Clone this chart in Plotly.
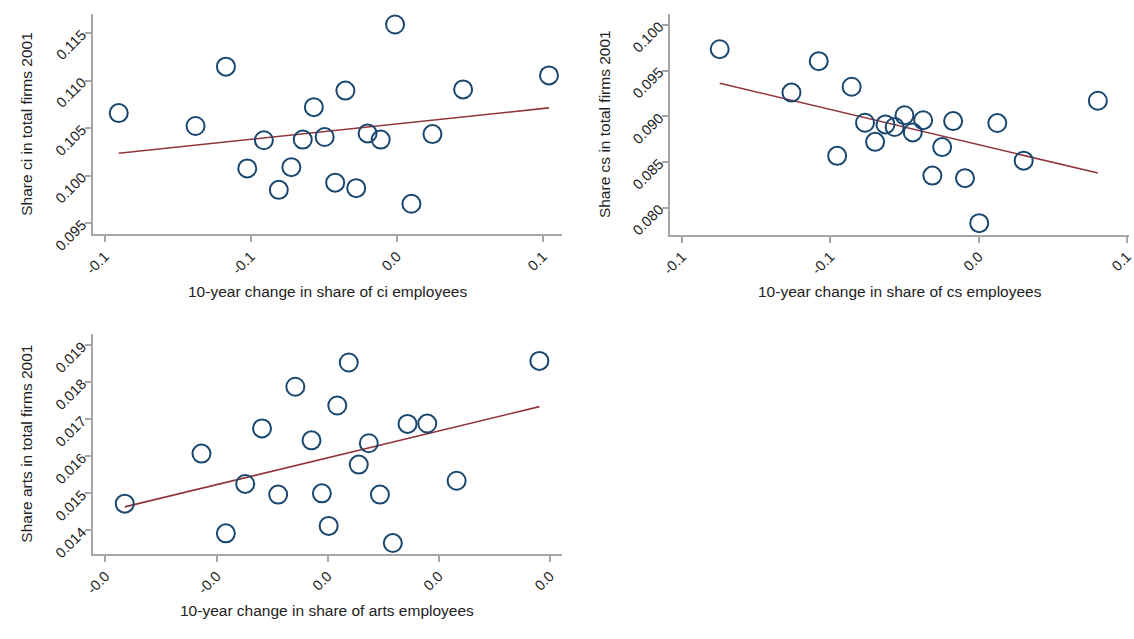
import numpy as np
import plotly.graph_objects as go

# ---- data -------------------------------------------------------------
ci_change = [-0.0952, -0.0689, -0.0585, -0.0512, -0.0455, -0.0404, -0.0361,
             -0.0322, -0.0284, -0.0247, -0.0211, -0.0176, -0.0139, -0.0100,
             -0.0055, -0.0006, 0.0050, 0.0122, 0.0227, 0.0521]
ci_share = [0.10658, 0.10522, 0.11146, 0.10076, 0.10372, 0.09851, 0.10089,
            0.10379, 0.10720, 0.10406, 0.09926, 0.10894, 0.09868, 0.10444,
            0.10379, 0.11589, 0.09704, 0.10437, 0.10907, 0.11054]
ci_fit = dict(intercept=0.10544, slope=0.03238)

cs_change = [-0.0873, -0.0631, -0.0539, -0.0477, -0.0428, -0.0383, -0.0349,
             -0.0314, -0.0283, -0.0250, -0.0222, -0.0187, -0.0156, -0.0123,
             -0.0086, -0.0046, 0.0002, 0.0063, 0.0152, 0.0402]
cs_share = [0.09734, 0.09259, 0.09603, 0.08567, 0.09323, 0.08929, 0.08720,
            0.08911, 0.08883, 0.09011, 0.08823, 0.08957, 0.08351, 0.08663,
            0.08947, 0.08323, 0.07830, 0.08926, 0.08514, 0.09170]
cs_fit = dict(intercept=0.08689, slope=-0.0771)

arts_change = [-0.003652, -0.002271, -0.001832, -0.001484, -0.001181, -0.000890,
               -0.000581, -0.000290, -0.000103, 0.000019, 0.000174, 0.000381,
               0.000561, 0.000742, 0.000942, 0.001174, 0.001439, 0.001794,
               0.002323, 0.003813]
arts_share = [0.014723, 0.016073, 0.013922, 0.015254, 0.016753, 0.014967,
              0.017876, 0.016430, 0.015002, 0.014122, 0.017371, 0.018530,
              0.015777, 0.016352, 0.014967, 0.013660, 0.016875, 0.016884,
              0.015341, 0.018573]
arts_fit = dict(intercept=0.015959, slope=0.3624)

# ---- tick labels ------------------------------------------------------
ci_xticks = [-0.10, -0.05, 0.0, 0.05]
ci_xlabels = ["-0.1", "-0.1", "0.0", "0.1"]
ci_yticks = [0.095, 0.100, 0.105, 0.110, 0.115]
ci_ylabels = ["0.095", "0.100", "0.105", "0.110", "0.115"]

cs_xticks = [-0.10, -0.05, 0.0, 0.05]
cs_xlabels = ["-0.1", "-0.1", "0.0", "0.1"]
cs_yticks = [0.080, 0.085, 0.090, 0.095, 0.100]
cs_ylabels = ["0.080", "0.085", "0.090", "0.095", "0.100"]

arts_xticks = [-0.004, -0.002, 0.0, 0.002, 0.004]
arts_xlabels = ["-0.0", "-0.0", "0.0", "0.0", "0.0"]
arts_yticks = [0.014, 0.015, 0.016, 0.017, 0.018, 0.019]
arts_ylabels = ["0.014", "0.015", "0.016", "0.017", "0.018", "0.019"]

# ---- styling ----------------------------------------------------------
W, H = 1134, 639
MARKER_COLOR = "#1a476f"
FIT_COLOR = "#90353b"
AXIS_COLOR = "#a6a6a6"
TEXT_COLOR = "#222222"
FONT = "Liberation Sans, Arial, sans-serif"

panels = [
    dict(x=ci_change, y=ci_share, fit=ci_fit, xt=ci_xticks, xl=ci_xlabels,
         yt=ci_yticks, yl=ci_ylabels,
         xr=[-0.10405, 0.05642], yr=[0.09383, 0.11704],
         xpx=(84, 559), ypx=(14, 241.5),
         xtitle="10-year change in share of ci employees",
         ytitle="Share ci in total firms 2001", xtitle_y=300, ytitle_x=17),
    dict(x=cs_change, y=cs_share, fit=cs_fit, xt=cs_xticks, xl=cs_xlabels,
         yt=cs_yticks, yl=cs_ylabels,
         xr=[-0.1040, 0.0507], yr=[0.07706, 0.10124],
         xpx=(669, 1134), ypx=(14, 241.7),
         xtitle="10-year change in share of cs employees",
         ytitle="Share cs in total firms 2001", xtitle_y=300, ytitle_x=602),
    dict(x=arts_change, y=arts_share, fit=arts_fit, xt=arts_xticks, xl=arts_xlabels,
         yt=arts_yticks, yl=arts_ylabels,
         xr=[-0.004226, 0.004213], yr=[0.013364, 0.019306],
         xpx=(84, 559), ypx=(344, 571),
         xtitle="10-year change in share of arts employees",
         ytitle="Share arts in total firms 2001", xtitle_y=629, ytitle_x=17),
]

fig = go.Figure()
annotations = []
layout_axes = {}

for i, p in enumerate(panels):
    n = "" if i == 0 else str(i + 1)
    xa, ya = "x" + n, "y" + n

    x = np.array(p["x"])
    y = np.array(p["y"])
    xf = np.array([x.min(), x.max()])
    yf = p["fit"]["intercept"] + p["fit"]["slope"] * xf

    fig.add_trace(go.Scatter(x=xf, y=yf, mode="lines", xaxis=xa, yaxis=ya,
                             line=dict(color=FIT_COLOR, width=1.6),
                             showlegend=False, hoverinfo="skip"))
    fig.add_trace(go.Scatter(x=x, y=y, mode="markers", xaxis=xa, yaxis=ya,
                             marker=dict(symbol="circle-open", size=18,
                                         color=MARKER_COLOR,
                                         line=dict(width=2, color=MARKER_COLOR)),
                             showlegend=False))

    x0, x1 = p["xpx"]
    y0, y1 = p["ypx"]
    common = dict(showgrid=False, zeroline=False, showline=True,
                  linecolor=AXIS_COLOR, linewidth=2, ticks="outside",
                  ticklen=6, tickwidth=2, tickcolor=AXIS_COLOR,
                  tickfont=dict(family=FONT, size=14.5, color=TEXT_COLOR),
                  tickangle=-45, tickmode="array", fixedrange=True,
                  ticklabeloverflow="allow")
    layout_axes["xaxis" + n] = dict(common, domain=[x0 / W, min(x1 / W, 1.0)],
                                    range=p["xr"], tickvals=p["xt"], ticktext=p["xl"],
                                    anchor=ya)
    layout_axes["yaxis" + n] = dict(common, domain=[1 - y1 / H, 1 - y0 / H],
                                    range=p["yr"], tickvals=p["yt"], ticktext=p["yl"],
                                    anchor=xa)

    annotations.append(dict(text=p["xtitle"], xref="paper", yref="paper",
                            x=((x0 + min(x1, W)) / 2) / W, y=1 - p["xtitle_y"] / H,
                            xanchor="center", yanchor="middle", showarrow=False,
                            font=dict(family=FONT, size=15.5, color=TEXT_COLOR)))
    annotations.append(dict(text=p["ytitle"], xref="paper", yref="paper",
                            x=p["ytitle_x"] / W, y=1 - ((y0 + y1) / 2) / H,
                            xanchor="center", yanchor="middle", textangle=-90,
                            showarrow=False,
                            font=dict(family=FONT, size=15.5, color=TEXT_COLOR)))

fig.update_layout(width=W, height=H, margin=dict(l=0, r=0, t=0, b=0),
                  paper_bgcolor="white", plot_bgcolor="white",
                  annotations=annotations, **layout_axes)

fig.write_html("out.html")
